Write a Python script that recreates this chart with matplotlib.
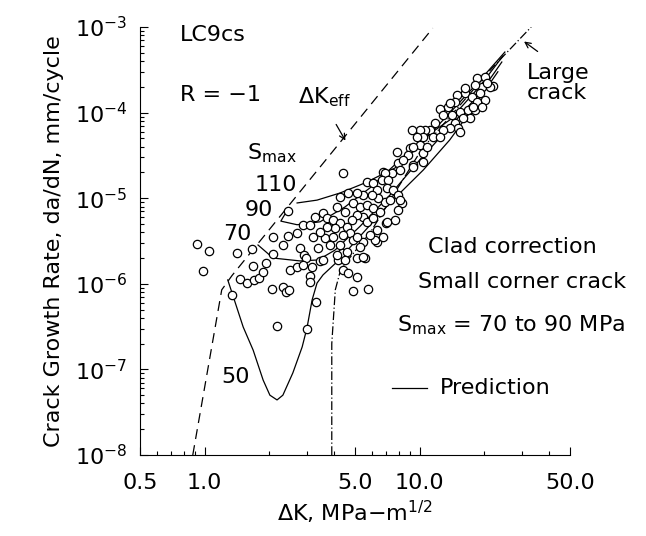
import matplotlib
matplotlib.use("Agg")
import matplotlib.pyplot as plt
from matplotlib.ticker import FixedLocator, FixedFormatter, LogLocator, NullFormatter

plt.rcParams['font.family'] = ['DejaVu Sans']
plt.rcParams['mathtext.fontset'] = 'dejavusans'

# values: dK in MPa-m^1/2, da/dN in mm/cycle
dk_eff = [0.88, 1.20, 1.34, 11.5]
rate_eff = [1e-8, 8.5e-7, 1.25e-6, 9.7e-4]

dk_large = [3.9, 3.9, 4.05, 4.3, 5.9, 10.2, 21.9, 33.0]
rate_large = [1e-8, 2.0e-7, 8.5e-7, 1.5e-6, 4.0e-6, 3.7e-5, 3.4e-4, 1.0e-3]

# predictions for Smax = 110, 90, 70, 50 MPa
dk_p110 = [2.69, 3.33, 4.26, 5.57, 7.67, 10.0, 13.8, 19.1, 24.9]
rate_p110 = [8.8e-6, 9.5e-6, 1.15e-5, 1.51e-5, 2.25e-5, 4.2e-5, 9.9e-5, 2.4e-4, 5.1e-4]

dk_p90 = [2.41, 2.26, 2.69, 3.44, 4.49, 5.87, 8.10, 10.6, 13.8, 19.1, 24.4]
rate_p90 = [7.1e-6, 5.4e-6, 4.9e-6, 5.3e-6, 7.9e-6, 1.32e-5, 2.8e-5, 5.2e-5, 8.2e-5, 2.05e-4, 4.6e-4]

dk_p70 = [1.77, 2.08, 2.78, 3.37, 4.04, 5.28, 7.27, 10.0, 13.8, 19.1, 24.1]
rate_p70 = [2.84e-6, 2.0e-6, 1.85e-6, 1.9e-6, 2.48e-6, 4.7e-6, 1.09e-5, 2.8e-5, 6.8e-5, 1.69e-4, 3.9e-4]

dk_p50 = [1.28, 1.35, 1.51, 1.68, 1.87, 2.01, 2.17, 2.31, 2.57, 2.84, 2.99, 3.16, 3.33,
          3.55, 4.12, 5.28, 7.27, 10.4, 13.8, 18.1, 23.1]
rate_p50 = [1.11e-6, 7.4e-7, 3.13e-7, 1.68e-7, 7.5e-8, 5.0e-8, 4.4e-8, 5.0e-8, 9.1e-8, 1.83e-7,
            3.05e-7, 6.5e-7, 1.02e-6, 1.27e-6, 1.8e-6, 3.6e-6, 8.8e-6, 2.14e-5, 4.8e-5, 1.23e-4, 3.0e-4]

# test data (small corner cracks)
dk_test = [0.921, 1.047, 0.982, 1.413, 1.660, 1.677, 1.339, 1.459, 1.573, 1.695,
           1.788, 1.866, 1.928, 2.078, 2.078, 2.312, 2.440, 2.687, 2.440, 2.056,
           2.312, 2.388, 2.466, 2.775, 2.896, 2.959, 2.493, 2.687, 2.865, 3.155,
           3.088, 3.088, 3.438, 3.293, 2.169, 2.990, 4.398, 4.639, 5.109, 4.894,
           5.748, 5.566, 6.328, 6.970, 7.674, 4.350, 4.168, 4.590, 4.398, 2.865,
           3.088, 3.258, 3.549, 4.258, 4.639, 5.686, 6.749, 7.840, 7.925, 9.013,
           10.03, 10.36, 8.822, 8.361, 9.307, 8.096, 7.431, 6.895, 6.677, 7.121,
           6.063, 6.328, 7.045, 7.511, 7.925, 8.272, 7.925, 7.045, 6.895, 6.397,
           5.999, 5.449, 5.109, 4.894, 4.124, 4.493, 5.276, 5.686, 6.063, 6.535,
           5.449, 5.109, 4.842, 5.686, 6.063, 3.705, 3.951, 4.258, 4.036, 3.705,
           4.590, 4.740, 4.398, 4.894, 5.449, 5.276, 6.194, 6.328, 5.872, 3.626,
           3.951, 4.258, 4.124, 4.493, 5.109, 5.449, 3.549, 18.47, 20.12, 21.93,
           19.48, 18.07, 16.24, 14.91, 14.59, 13.54, 12.43, 12.83, 14.13, 15.39,
           16.77, 18.07, 17.13, 15.90, 14.59, 15.07, 15.39, 13.83, 12.83, 11.78,
           11.16, 10.58, 10.03, 9.207, 10.36, 9.714, 11.53, 12.43, 9.307, 10.36,
           9.307, 17.51, 19.07, 20.12, 18.47, 19.48, 21.23, 20.56, 13.83, 16.24,
           17.69, 10.81, 7.273, 8.096, 6.749, 5.109, 3.189, 3.438, 3.827, 3.365]
rate_test = [2.92e-6, 2.42e-6, 1.41e-6, 2.29e-6, 2.55e-6, 1.61e-6, 7.40e-7, 1.14e-6, 1.02e-6, 1.11e-6,
             1.17e-6, 1.37e-6, 1.75e-6, 2.23e-6, 3.52e-6, 2.84e-6, 3.62e-6, 3.92e-6, 7.09e-6, 8.69e-7,
             9.18e-7, 8.02e-7, 8.46e-7, 2.62e-6, 2.17e-6, 2.00e-6, 1.45e-6, 1.57e-6, 1.66e-6, 1.57e-6,
             1.23e-6, 1.05e-6, 1.85e-6, 6.13e-7, 3.21e-7, 2.96e-7, 1.45e-6, 1.34e-6, 1.20e-6, 8.24e-7,
             8.69e-7, 2.00e-6, 3.08e-6, 5.13e-6, 5.56e-6, 2.29e-6, 1.90e-6, 2.35e-6, 1.97e-5, 4.86e-6,
             4.86e-6, 6.03e-6, 6.71e-6, 1.03e-5, 1.15e-5, 1.55e-5, 2.02e-5, 3.46e-5, 2.58e-5, 3.86e-5,
             4.18e-5, 3.37e-5, 3.20e-5, 2.79e-5, 2.44e-5, 2.14e-5, 1.97e-5, 1.97e-5, 1.63e-5, 1.63e-5,
             1.51e-5, 1.25e-5, 1.32e-5, 1.25e-5, 1.09e-5, 8.79e-6, 7.28e-6, 5.27e-6, 9.03e-6, 1.005e-5,
             1.09e-5, 1.09e-5, 1.15e-5, 8.79e-6, 7.89e-6, 6.90e-6, 7.89e-6, 8.33e-6, 7.68e-6, 6.90e-6,
             6.03e-6, 6.36e-6, 5.56e-6, 5.27e-6, 5.87e-6, 5.87e-6, 5.56e-6, 5.13e-6, 4.49e-6, 4.61e-6,
             4.61e-6, 3.92e-6, 3.72e-6, 3.25e-6, 3.08e-6, 2.69e-6, 3.25e-6, 4.25e-6, 3.72e-6, 3.43e-6,
             3.52e-6, 2.84e-6, 2.17e-6, 1.90e-6, 2.00e-6, 2.06e-6, 1.90e-6, 2.54e-4, 2.61e-4, 2.05e-4,
             1.99e-4, 2.10e-4, 1.69e-4, 1.61e-4, 1.33e-4, 1.16e-4, 1.10e-4, 9.37e-5, 9.37e-5, 1.02e-4,
             1.07e-4, 1.07e-4, 8.65e-5, 8.65e-5, 7.56e-5, 6.61e-5, 5.93e-5, 6.61e-5, 6.26e-5, 7.56e-5,
             6.26e-5, 6.26e-5, 6.26e-5, 6.26e-5, 5.19e-5, 5.19e-5, 5.19e-5, 5.19e-5, 3.96e-5, 2.65e-5,
             2.31e-5, 1.52e-4, 1.69e-4, 1.40e-4, 1.33e-4, 1.16e-4, 1.99e-4, 2.22e-4, 1.29e-4, 1.94e-4,
             1.16e-4, 3.96e-5, 9.53e-6, 9.53e-6, 3.52e-6, 3.52e-6, 3.52e-6, 4.03e-6, 2.84e-6, 2.62e-6]

x_ticks = [0.5, 1.0, 5.0, 10.0, 50.0]
x_labels = ['0.5', '1.0', '5.0', '10.0', '50.0']

fig = plt.figure(figsize=(6.46, 5.36), dpi=100)
ax = fig.add_axes([0.2167, 0.1511, 0.6656, 0.7985])

lw = 0.9
ax.plot(dk_eff, rate_eff, color='black', lw=lw, ls=(0, (8, 5)))
ax.plot(dk_large, rate_large, color='black', lw=lw, ls=(0, (7, 2, 1, 2)))
for dk, rate in [(dk_p110, rate_p110), (dk_p90, rate_p90), (dk_p70, rate_p70), (dk_p50, rate_p50)]:
    ax.plot(dk, rate, color='black', lw=lw)
ax.plot(dk_test, rate_test, 'o', ms=6, mfc='white', mec='black', mew=0.9, ls='none')

ax.set_xscale('log')
ax.set_yscale('log')
ax.set_xlim(0.5, 50)
ax.set_ylim(1e-8, 1e-3)

ax.spines['top'].set_visible(False)
ax.spines['right'].set_visible(False)
ax.xaxis.set_major_locator(FixedLocator(x_ticks))
ax.xaxis.set_major_formatter(FixedFormatter(x_labels))
ax.xaxis.set_minor_locator(LogLocator(base=10, subs=range(2, 10)))
ax.xaxis.set_minor_formatter(NullFormatter())
ax.yaxis.set_minor_locator(LogLocator(base=10, subs=range(2, 10)))
ax.yaxis.set_minor_formatter(NullFormatter())
ax.tick_params(which='both', direction='in', width=0.8, labelsize=16)
ax.tick_params(which='major', length=6)
ax.tick_params(which='minor', length=3)
ax.tick_params(axis='x', pad=13)
ax.tick_params(axis='y', pad=9)

ax.set_xlabel(r'$\Delta$K, MPa$-$m$^{1/2}$', fontsize=16, labelpad=4)
ax.set_ylabel('Crack Growth Rate, da/dN, mm/cycle', fontsize=16, labelpad=8)

fs = 16
tr = ax.transAxes
ax.text(0.093, 0.981, 'LC9cs', transform=tr, fontsize=fs, va='center')
ax.text(0.093, 0.841, 'R = \u22121', transform=tr, fontsize=fs, va='center')
ax.text(0.367, 0.836, r'$\Delta\mathrm{K}_{\mathrm{eff}}$', transform=tr, fontsize=fs, va='center')
ax.annotate('', xy=(0.481, 0.729), xytext=(0.453, 0.778), xycoords=tr,
            arrowprops=dict(arrowstyle='->', lw=0.9, color='black'))
ax.text(0.249, 0.706, r'$\mathrm{S}_{\mathrm{max}}$', transform=tr, fontsize=fs, va='center')
ax.text(0.365, 0.631, '110', transform=tr, fontsize=fs, va='center', ha='right')
ax.text(0.309, 0.572, '90', transform=tr, fontsize=fs, va='center', ha='right')
ax.text(0.260, 0.516, '70', transform=tr, fontsize=fs, va='center', ha='right')
ax.text(0.256, 0.182, '50', transform=tr, fontsize=fs, va='center', ha='right')
ax.text(0.900, 0.870, 'Large\ncrack', transform=tr, fontsize=fs, va='center', linespacing=1.0)
ax.annotate('', xy=(0.888, 0.970), xytext=(0.930, 0.939), xycoords=tr,
            arrowprops=dict(arrowstyle='->', lw=0.9, color='black'))
ax.text(0.865, 0.486, 'Clad correction', transform=tr, fontsize=fs, va='center', ha='center')
ax.text(0.888, 0.404, 'Small corner crack', transform=tr, fontsize=fs, va='center', ha='center')
ax.text(0.863, 0.304, r'$\mathrm{S}_{\mathrm{max}}$ = 70 to 90 MPa', transform=tr, fontsize=fs,
        va='center', ha='center')
ax.plot([0.586, 0.667], [0.157, 0.157], transform=tr, color='black', lw=lw, clip_on=False)
ax.text(0.698, 0.157, 'Prediction', transform=tr, fontsize=fs, va='center')

fig.savefig('out.png', dpi=100)
